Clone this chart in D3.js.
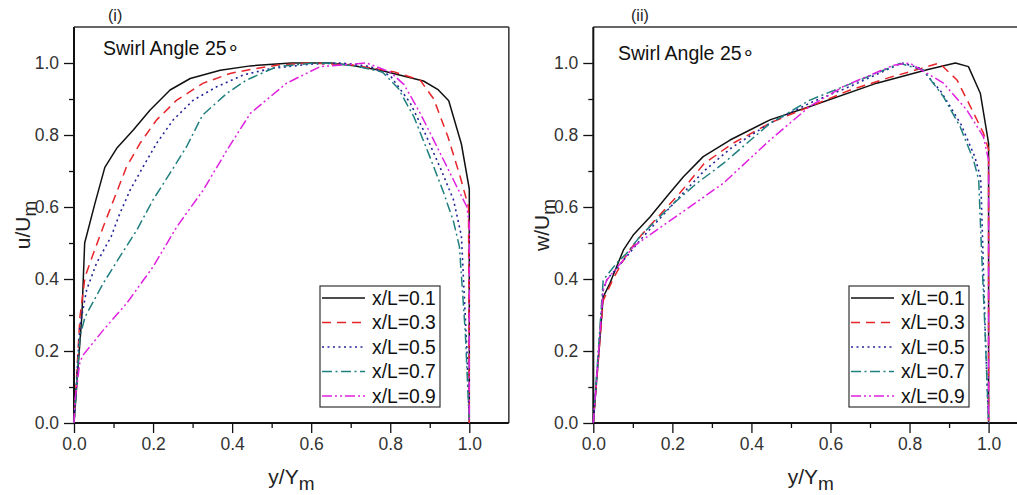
<!DOCTYPE html>
<html><head><meta charset="utf-8">
<script src="https://cdn.jsdelivr.net/npm/d3@7"></script>
<style>
html,body{margin:0;padding:0;background:#fff;}
svg{display:block;font-family:"Liberation Sans",Arial,sans-serif;}
</style></head>
<body>
<svg id="chart" width="1017" height="495"></svg>
<script>
// ---------- DATA ----------
const seriesNames = ["x/L=0.1","x/L=0.3","x/L=0.5","x/L=0.7","x/L=0.9"];
const majorTicks = [0.0,0.2,0.4,0.6,0.8,1.0];
const minorTicks = [0.1,0.3,0.5,0.7,0.9];
const panelTags = ["(i)","(ii)"];
const panelNote = "Swirl Angle 25\u2218";

// panel (i): u/Um vs y/Ym  -- [y/Ym, u/Um]
const u01 = [[0,0],[0.02,0.3],[0.027,0.5],[0.053,0.61],[0.078,0.71],[0.108,0.763],[0.15,0.814],[0.192,0.869],[0.243,0.925],[0.294,0.957],[0.37,0.98],[0.446,0.992],[0.55,1.0],[0.65,1.0],[0.7,0.994],[0.775,0.98],[0.884,0.95],[0.92,0.927],[0.948,0.895],[0.98,0.775],[1.0,0.65],[1.0,0]];
const u03 = [[0,0],[0.015,0.295],[0.028,0.406],[0.049,0.471],[0.074,0.545],[0.1,0.619],[0.133,0.712],[0.167,0.777],[0.209,0.842],[0.26,0.897],[0.327,0.944],[0.395,0.971],[0.446,0.982],[0.52,0.995],[0.6,1.0],[0.7,0.995],[0.808,0.976],[0.876,0.952],[0.91,0.9],[0.946,0.795],[0.977,0.684],[0.998,0.6],[1.0,0]];
const u05 = [[0,0],[0.015,0.27],[0.032,0.37],[0.057,0.444],[0.094,0.518],[0.116,0.582],[0.142,0.647],[0.175,0.712],[0.209,0.777],[0.251,0.842],[0.302,0.897],[0.361,0.934],[0.429,0.967],[0.5,0.985],[0.6,0.997],[0.68,1.0],[0.75,0.99],[0.8,0.965],[0.85,0.89],[0.89,0.8],[0.93,0.7],[0.96,0.62],[0.98,0.52],[0.994,0.2],[1.0,0]];
const u07 = [[0,0],[0.015,0.24],[0.028,0.295],[0.074,0.388],[0.116,0.462],[0.159,0.536],[0.2,0.62],[0.243,0.694],[0.285,0.768],[0.325,0.855],[0.387,0.916],[0.437,0.953],[0.513,0.99],[0.6,0.999],[0.65,1.0],[0.72,0.99],[0.78,0.975],[0.82,0.93],[0.86,0.85],[0.9,0.74],[0.935,0.64],[0.96,0.56],[0.975,0.49],[0.99,0.25],[1.0,0]];
const u09 = [[0,0],[0.0025,0.064],[0.015,0.17],[0.024,0.19],[0.074,0.258],[0.133,0.332],[0.2,0.434],[0.26,0.545],[0.327,0.647],[0.387,0.758],[0.446,0.86],[0.538,0.944],[0.623,0.99],[0.74,1.0],[0.8,0.975],[0.835,0.94],[0.876,0.86],[0.918,0.768],[0.96,0.675],[0.994,0.6],[1.0,0.55],[1.0,0]];

// panel (ii): w/Um vs y/Ym
const w01 = [[0,0],[0.025,0.35],[0.042,0.388],[0.059,0.434],[0.076,0.48],[0.101,0.522],[0.144,0.573],[0.186,0.629],[0.228,0.684],[0.278,0.74],[0.346,0.786],[0.447,0.842],[0.548,0.879],[0.717,0.944],[0.844,0.981],[0.916,1.0],[0.949,0.99],[0.979,0.916],[1.0,0.777],[1.0,0]];
const w03 = [[0,0],[0.025,0.34],[0.05,0.4],[0.085,0.47],[0.12,0.52],[0.17,0.58],[0.22,0.64],[0.28,0.72],[0.35,0.775],[0.45,0.835],[0.55,0.88],[0.65,0.925],[0.75,0.96],[0.83,0.985],[0.875,1.0],[0.92,0.953],[0.954,0.879],[0.987,0.805],[1.0,0.76],[1.0,0]];
const w05 = [[0,0],[0.025,0.37],[0.035,0.4],[0.06,0.43],[0.09,0.47],[0.12,0.51],[0.17,0.57],[0.22,0.63],[0.28,0.7],[0.35,0.765],[0.45,0.835],[0.55,0.89],[0.65,0.935],[0.72,0.97],[0.78,1.0],[0.83,0.985],[0.88,0.92],[0.93,0.83],[0.965,0.74],[0.98,0.68],[0.985,0.5],[0.993,0.2],[1.0,0]];
const w07 = [[0,0],[0.025,0.397],[0.059,0.444],[0.084,0.471],[0.118,0.518],[0.16,0.564],[0.203,0.61],[0.262,0.666],[0.329,0.721],[0.447,0.832],[0.548,0.897],[0.675,0.953],[0.776,0.999],[0.835,0.98],[0.886,0.906],[0.928,0.823],[0.962,0.73],[0.975,0.675],[0.981,0.508],[0.992,0.23],[1.0,0]];
const w09 = [[0,0],[0.025,0.369],[0.034,0.397],[0.076,0.453],[0.101,0.49],[0.16,0.536],[0.245,0.601],[0.329,0.666],[0.447,0.786],[0.548,0.88],[0.633,0.935],[0.76,0.994],[0.8,1.0],[0.886,0.944],[0.945,0.869],[0.987,0.795],[1.0,0.73],[1.0,0]];

// ---------- STYLE ----------
const colors = ["#111111","#e8242a","#24249a","#1f7f7f","#e020e0"];
const dashes = [null,"9,6","2,3.5","10,3.5,2,3.5","10,3,2,3,2,3"];
const widths = [1.5,1.5,1.6,1.5,1.5];

const svg = d3.select("#chart");
const panels = [
  {left:74, main:"u/U", data:[u01,u03,u05,u07,u09], tag:panelTags[0], tagX:108, noteX:103, noteY:55, legX:320},
  {left:593.3, main:"w/U", data:[w01,w03,w05,w07,w09], tag:panelTags[1], tagX:631, noteX:618, noteY:60, legX:849}
];
const plotTop = 27, plotBottom = 423, pxPerUnit = 395.3;

panels.forEach(p => {
  const x = d3.scaleLinear().domain([0,1.1]).range([p.left, p.left + 1.1*pxPerUnit]);
  const y = d3.scaleLinear().domain([0,1.1]).range([plotBottom, plotTop]);
  const g = svg.append("g");

  // frame (top and right)
  g.append("line").attr("x1",x(0)).attr("x2",Math.min(x(1.1),1017)).attr("y1",y(1.1)).attr("y2",y(1.1))
    .attr("stroke","#333").attr("stroke-width",1.5);
  g.append("line").attr("x1",x(1.1)).attr("x2",x(1.1)).attr("y1",y(1.1)).attr("y2",y(0))
    .attr("stroke","#333").attr("stroke-width",1.5);

  // axes
  const fmt = d3.format(".1f");
  const xa = g.append("g").attr("transform",`translate(0,${plotBottom})`)
    .call(d3.axisBottom(x).tickValues(majorTicks).tickFormat(fmt).tickSize(10).tickPadding(5));
  const xm = g.append("g").attr("transform",`translate(0,${plotBottom})`)
    .call(d3.axisBottom(x).tickValues(minorTicks).tickFormat("").tickSize(5));
  const ya = g.append("g").attr("transform",`translate(${p.left},0)`)
    .call(d3.axisLeft(y).tickValues(majorTicks).tickFormat(fmt).tickSize(10).tickPadding(5));
  const ym = g.append("g").attr("transform",`translate(${p.left},0)`)
    .call(d3.axisLeft(y).tickValues(minorTicks).tickFormat("").tickSize(5));
  [xa,xm,ya,ym].forEach(a => {
    a.select(".domain").attr("stroke","#111").attr("stroke-width",2);
    a.selectAll(".tick line").attr("stroke","#111").attr("stroke-width",1.3);
    a.selectAll(".tick text").attr("fill","#333").style("font-size","17.5px")
      .style("font-family","'Liberation Sans',Arial,sans-serif");
  });
  xa.select(".domain").attr("d",`M${x(0)},0H${Math.min(x(1.1),1017)}`);
  xm.select(".domain").remove();
  ya.select(".domain").attr("d",`M0,${y(0)}V${y(1.1)}`);
  ym.select(".domain").remove();

  // axis titles
  const xt = g.append("text").attr("x",(x(0)+x(1.1))/2).attr("y",484)
    .attr("text-anchor","middle").attr("fill","#222").style("font-size","21px");
  xt.append("tspan").text("y/Y");
  xt.append("tspan").attr("dy",6).style("font-size","19px").text("m");

  const yt = g.append("text").attr("transform",`translate(${p.left-44},${(y(0)+y(1.1))/2}) rotate(-90)`)
    .attr("text-anchor","middle").attr("fill","#222").style("font-size","21px");
  yt.append("tspan").text(p.main);
  yt.append("tspan").attr("dy",6).style("font-size","19px").text("m");

  // tag and note
  g.append("text").attr("x",p.tagX).attr("y",21).attr("fill","#222").style("font-size","16px").text(p.tag);
  g.append("text").attr("x",p.noteX).attr("y",p.noteY).attr("fill","#111").style("font-size","19.5px").text(panelNote);

  // curves
  const line = d3.line().x(d => x(d[0])).y(d => y(d[1]));
  p.data.forEach((s,i) => {
    g.append("path").datum(s).attr("d",line).attr("fill","none")
      .attr("stroke",colors[i]).attr("stroke-width",widths[i])
      .attr("stroke-dasharray",dashes[i]).attr("stroke-linejoin","round");
  });

  // legend
  const lg = g.append("g").attr("transform",`translate(${p.legX},286)`);
  lg.append("rect").attr("width",120).attr("height",121).attr("fill","#fff")
    .attr("stroke","#333").attr("stroke-width",1.2);
  seriesNames.forEach((n,i) => {
    const cy = 12 + i*24.5;
    lg.append("line").attr("x1",2).attr("x2",45).attr("y1",cy).attr("y2",cy)
      .attr("stroke",colors[i]).attr("stroke-width",widths[i]).attr("stroke-dasharray",dashes[i]);
    lg.append("text").attr("x",52).attr("y",cy).attr("dy","0.36em").attr("fill","#111")
      .style("font-size","19.3px").text(n);
  });
});
</script>
</body></html>
